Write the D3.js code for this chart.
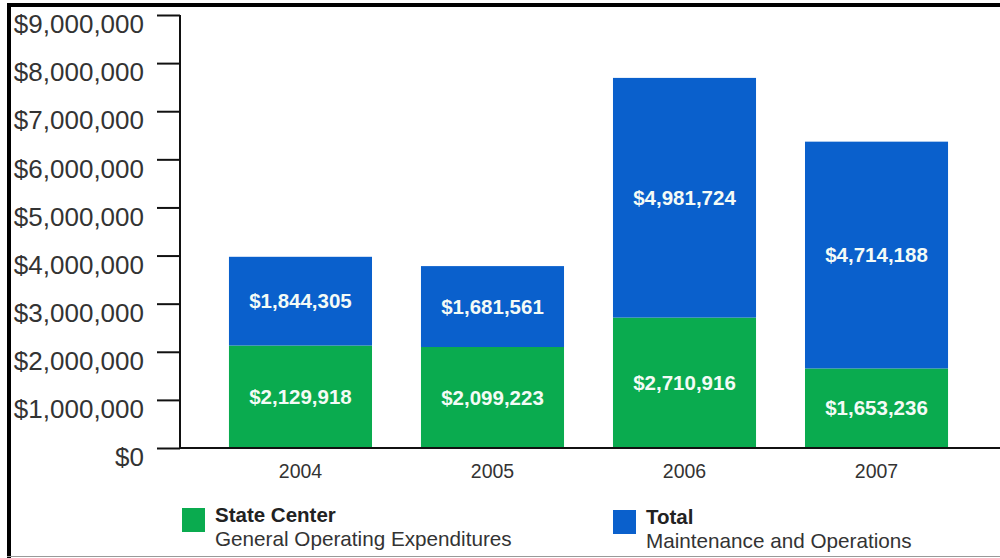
<!DOCTYPE html>
<html><head><meta charset="utf-8">
<script src="https://cdn.jsdelivr.net/npm/d3@7"></script>
<style>
html,body{margin:0;padding:0;background:#fff;}
svg{display:block;font-family:"Liberation Sans",Arial,sans-serif;}
</style></head>
<body><svg id="c" width="1000" height="558"></svg>
<script>
const years = ["2004","2005","2006","2007"];
const stateCenter = [2129918, 2099223, 2710916, 1653236];
const maintenance = [1844305, 1681561, 4981724, 4714188];
const yTicks = [0,1000000,2000000,3000000,4000000,5000000,6000000,7000000,8000000,9000000];
const seriesNames = ["State Center","Total"];
const seriesSub = ["General Operating Expenditures","Maintenance and Operations"];
const colors = ["#0aab4f","#0a60cc"];

const svg = d3.select("#c");
const fmt = d3.format("$,");

// frame
svg.append("rect").attr("x",7).attr("y",3).attr("width",4).attr("height",555).attr("fill","#000");
svg.append("rect").attr("x",7).attr("y",3).attr("width",993).attr("height",4).attr("fill","#000");
svg.append("line").attr("x1",7).attr("x2",1000).attr("y1",556.5).attr("y2",556.5).attr("stroke","#999").attr("stroke-width",1);

const x = d3.scaleBand().domain(years).range([180,997]).paddingInner(0.255).paddingOuter(0.255);
const y = d3.scaleLinear().domain([0,9000000]).range([448,15]);

const stack = d3.stack().keys([0,1]).value((d,k)=>d[k]);
const rows = years.map((yr,i)=>({year:yr,0:stateCenter[i],1:maintenance[i]}));
const layers = stack(rows);

layers.forEach((layer,li)=>{
  const g = svg.append("g");
  g.selectAll("rect").data(layer).join("rect")
    .attr("x",d=>x(d.data.year)).attr("width",x.bandwidth())
    .attr("y",d=>y(d[1])).attr("height",d=>y(d[0])-y(d[1]))
    .attr("fill",colors[li]);
  g.selectAll("text").data(layer).join("text")
    .attr("x",d=>x(d.data.year)+x.bandwidth()/2)
    .attr("y",d=>(y(d[0])+y(d[1]))/2+7)
    .attr("text-anchor","middle").attr("fill","#f4fbf6")
    .attr("font-weight","bold").attr("font-size",20.5)
    .text(d=>fmt(d[1]-d[0]));
});

// y axis
const yAxis = d3.axisLeft(y).tickValues(yTicks).tickFormat(fmt).tickSize(23).tickPadding(13);
const ga = svg.append("g").attr("transform","translate(180,0)").call(yAxis);
ga.select(".domain").attr("stroke","#111").attr("stroke-width",2).attr("d","M0,15V448");
ga.selectAll(".tick line").attr("stroke","#111").attr("stroke-width",2);
ga.selectAll(".tick text").attr("font-size",26).attr("fill","#333")
  .attr("font-family","'Liberation Sans',Arial,sans-serif").attr("dy","0.68em");

// x axis
const xAxis = d3.axisBottom(x).tickSize(0).tickPadding(16);
const gx = svg.append("g").attr("transform","translate(0,448)").call(xAxis);
gx.select(".domain").attr("stroke","#111").attr("stroke-width",2).attr("d","M180,0H1000");
gx.selectAll(".tick text").attr("font-size",19.5).attr("fill","#333")
  .attr("font-family","'Liberation Sans',Arial,sans-serif");

// legend
const legX = [182,613], legY = [508,510];
seriesNames.forEach((n,i)=>{
  const g = svg.append("g").attr("transform",`translate(${legX[i]},${legY[i]})`);
  g.append("rect").attr("width",23).attr("height",24).attr("fill",colors[i]);
  g.append("text").attr("x",33).attr("y",14).attr("font-size",20.5).attr("font-weight","bold").attr("fill","#222").text(n);
  g.append("text").attr("x",33).attr("y",38).attr("font-size",20.7).attr("fill","#333").text(seriesSub[i]);
});
</script></body></html>
